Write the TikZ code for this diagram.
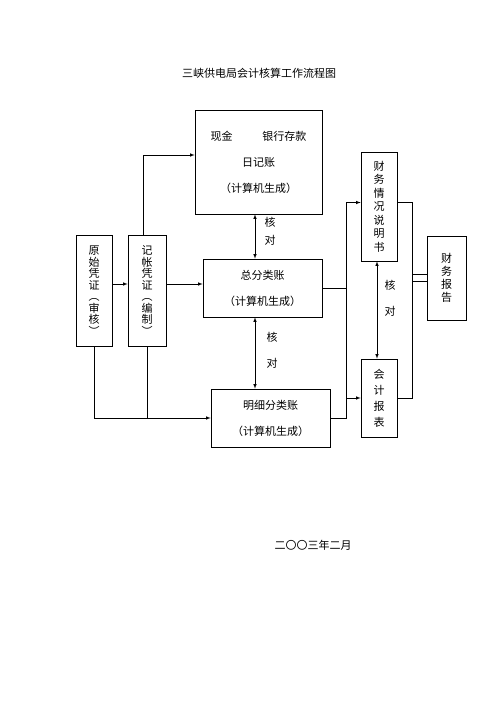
\documentclass[tikz,border=0pt]{standalone}
\usepackage{fontspec}
\usepackage{tikz}
\usepackage{xcolor}
\newfontfamily\cjk{Noto Sans CJK SC}
\usetikzlibrary{positioning, arrows, calc}

\begin{document}
\begin{tikzpicture}[x=1pt,y=-1pt,line width=0.6pt,
  box/.style={draw, inner sep=0pt, align=center, font=\cjk\fontsize{11}{26}\selectfont},
  vbox/.style={draw, inner sep=0pt, align=center, text width=12pt},
  lbl/.style={font=\cjk\fontsize{11}{13}\selectfont}]
\useasboundingbox (0,0) rectangle (496,702);
\node[lbl] (title) at (259,73) {三峡供电局会计核算工作流程图};
\node[lbl] (date) at (313,545) {二〇〇三年二月};
% boxes
\node[box, minimum width=127pt, minimum height=104pt] (rijizhang) at (258.5,162)
  {现金\hspace{30pt}银行存款\\日记账\\（计算机生成）};
\node[box, minimum width=119pt, minimum height=58pt] (zongfen) at (262.5,288)
  {总分类账\\（计算机生成）};
\node[box, minimum width=119pt, minimum height=58pt] (mingxi) at (270.5,418)
  {明细分类账\\（计算机生成）};
\node[vbox, minimum width=36pt, minimum height=111pt, font=\cjk\fontsize{11}{11.5}\selectfont] (yuanshi) at (94,290.5)
  {原\\始\\凭\\证\\︵\\审\\核\\︶};
\node[vbox, minimum width=38pt, minimum height=111pt, font=\cjk\fontsize{11}{11.5}\selectfont] (jizhang) at (147,290.5)
  {记\\帐\\凭\\证\\︵\\编\\制\\︶};
\node[vbox, minimum width=36pt, minimum height=109pt, font=\cjk\fontsize{11}{13.5}\selectfont] (shuoming) at (379,206.5)
  {财\\务\\情\\况\\说\\明\\书};
\node[vbox, minimum width=36pt, minimum height=78pt, font=\cjk\fontsize{11}{16}\selectfont] (baobiao) at (379,398)
  {会\\计\\报\\表};
\node[vbox, minimum width=39pt, minimum height=84pt, font=\cjk\fontsize{11}{13}\selectfont] (baogao) at (446.5,278)
  {财\\务\\报\\告};
% check labels
\node[lbl] (he1) at (270,222) {核};
\node[lbl] (dui1) at (270,240) {对};
\node[lbl] (he2) at (272,337) {核};
\node[lbl] (dui2) at (272,363) {对};
\node[lbl] (he3) at (390,285) {核};
\node[lbl] (dui3) at (390,311) {对};
% helper points
\coordinate (kx) at (255,0);
\coordinate (h1) at (0,284);
\coordinate (bus) at (346,0);
\coordinate (rbus) at (412,0);
% connectors
\draw[-latex] (yuanshi.east |- h1) -- (jizhang.west |- h1);
\draw[-latex] (jizhang.east |- h1) -- (zongfen.west |- h1);
\draw[-latex] ([xshift=-4pt]jizhang.north) |- ($(rijizhang.west)+(0,-7)$);
\draw[latex-latex] (rijizhang.south -| kx) -- (zongfen.north -| kx);
\draw[latex-latex] (zongfen.south -| kx) -- (mingxi.north -| kx);
\draw[-latex] (yuanshi.south) |- (mingxi.west);
\draw (jizhang.south) -- (jizhang.south |- mingxi.west);
\draw (zongfen.east) -- (zongfen.east -| bus);
\draw (mingxi.east) -- (mingxi.east -| bus) -- ($(bus |- shuoming.west)+(0,-4)$);
\draw[-latex] ($(bus |- shuoming.west)+(0,-4)$) -- ($(shuoming.west)+(0,-4)$);
\draw[-latex] (bus |- baobiao.west) -- (baobiao.west);
\draw[latex-latex] ([xshift=-2pt]shuoming.south) -- ([xshift=-2pt]baobiao.north);
\draw ($(shuoming.east)+(0,-4)$) -- ($(shuoming.east -| rbus)+(0,-4)$) -- (rbus |- baobiao.east) -- (baobiao.east);
\draw ($(baogao.west -| rbus)+(0,-4)$) -- ($(baogao.west)+(0,-4)$);
\draw ($(baogao.west -| rbus)+(0,3)$) -- ($(baogao.west)+(0,3)$);
\end{tikzpicture}
\end{document}
